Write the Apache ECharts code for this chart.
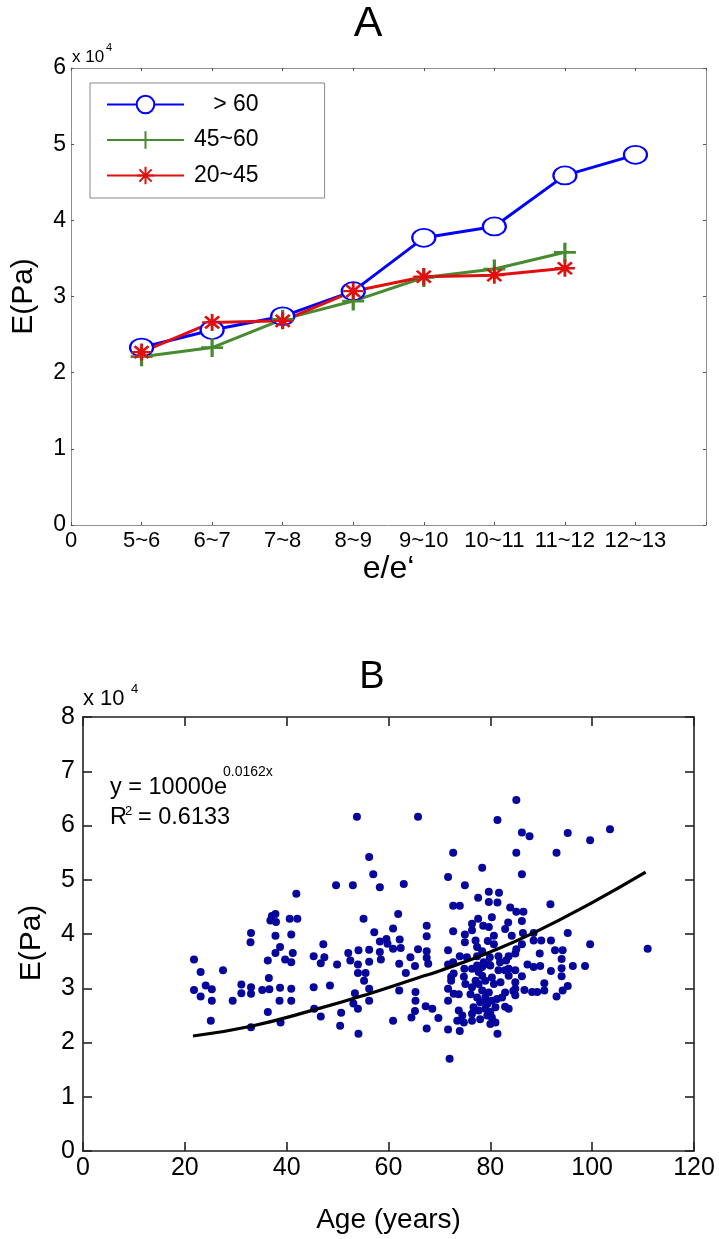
<!DOCTYPE html>
<html><head><meta charset="utf-8">
<script src="https://cdn.jsdelivr.net/npm/echarts@6/dist/echarts.min.js"></script>
<style>html,body{margin:0;padding:0;background:#fff}#c{width:719px;height:1239px}</style>
</head><body><div id="c"></div>
<script>
// ---------- Panel A data (E in units of 1e4 Pa) ----------
const groupsA = ['5~6','6~7','7~8','8~9','9~10','10~11','11~12','12~13'];
const xTickLabelsA = ['0','5~6','6~7','7~8','8~9','9~10','10~11','11~12','12~13',''];
const seriesNamesA = ['>60','45~60','20~45'];
const legendLabelsA = ['   > 60','45~60','20~45'];
const over60   = [2.33, 2.56, 2.74, 3.07, 3.77, 3.92, 4.59, 4.86];
const age45to60 = [2.21, 2.33, 2.70, 2.94, 3.25, 3.36, 3.58];
const age20to45 = [2.27, 2.66, 2.68, 3.07, 3.26, 3.28, 3.37];

// ---------- Panel B data: [age (years), E (1e4 Pa)] ----------
const scatterB = [
[53.8,6.16],[65.8,6.16],[56.2,5.42],[57.0,5.10],[58.3,4.86],[49.7,4.90],[53.0,4.90],[63.0,4.92],[41.9,4.74],[37.8,4.37],
[36.8,4.25],[37.9,4.22],[37.1,4.33],[40.6,4.28],[42.1,4.28],[33.0,4.02],[32.9,3.85],[37.8,3.97],[40.9,3.99],[38.7,3.76],
[37.8,3.65],[36.3,3.51],[39.7,3.53],[40.9,3.48],[41.2,3.65],[47.2,3.81],[45.3,3.59],[47.4,3.57],[46.7,3.46],[49.9,3.44],
[52.1,3.65],[52.5,3.51],[54.1,3.70],[54.0,3.44],[55.1,4.28],[57.2,4.03],[58.3,3.86],[59.6,3.91],[59.8,3.82],[60.9,4.10],
[61.9,4.37],[62.2,3.90],[60.9,3.73],[62.4,3.74],[56.2,3.71],[58.3,3.67],[58.5,3.53],[56.2,3.49],[54.0,3.28],[55.5,3.28],
[55.2,3.14],[56.2,2.99],[53.4,2.91],[56.2,2.77],[53.1,2.72],[54.0,2.62],[50.7,2.55],[50.5,2.31],[54.1,2.16],[45.3,3.02],
[48.5,3.05],[45.4,2.62],[46.7,2.48],[62.1,3.45],[63.4,3.28],[62.1,2.96],[64.3,3.57],[65.2,3.41],[65.8,3.72],[65.3,2.93],
[65.3,2.77],[65.2,2.58],[64.5,2.46],[60.9,2.40],[67.3,2.67],[68.6,2.62],[69.8,2.45],[67.5,2.26],[67.5,4.15],[67.5,3.96],
[67.5,3.68],[67.5,3.56],[67.8,3.45],
[21.8,3.53],[23.1,3.30],[21.8,2.97],[23.1,2.85],[24.1,3.05],[25.3,2.98],[25.3,2.77],[25.1,2.40],[27.5,3.33],[29.4,2.77],
[31.1,3.07],[31.1,2.91],[33.0,3.02],[33.0,2.90],[33.0,2.28],[35.2,2.97],[36.6,2.98],[36.5,3.19],[38.7,3.01],[38.6,2.77],
[36.3,2.56],[38.8,2.37],[40.9,2.99],[40.9,2.77],[72.0,1.70],
[85.1,6.47],[81.4,6.10],[86.2,5.87],[87.7,5.80],[95.2,5.86],[99.6,5.73],[103.5,5.93],[72.7,5.50],[85.1,5.50],[93.0,5.50],
[78.4,5.22],[86.2,5.10],[71.7,5.05],[75.0,4.90],[77.6,4.67],[79.7,4.78],[81.7,4.76],[79.7,4.59],[81.4,4.58],[72.7,4.52],
[74.0,4.52],[91.8,4.55],[83.9,4.49],[85.1,4.41],[86.5,4.41],[80.3,4.31],[77.6,4.28],[76.4,4.19],[78.6,4.15],[79.7,4.13],
[83.5,4.21],[86.2,4.24],[82.9,4.09],[76.4,4.07],[72.7,4.05],[75.0,3.99],[80.7,3.97],[84.2,3.97],[86.4,4.02],[88.5,4.02],
[95.2,4.02],[75.0,3.85],[77.1,3.88],[79.5,3.87],[80.7,3.81],[86.2,3.81],[88.5,3.88],[90.0,3.88],[91.9,3.88],[99.6,3.81],
[110.9,3.73],[71.7,3.70],[77.4,3.76],[78.4,3.68],[81.6,3.59],[83.6,3.59],[84.9,3.64],[85.1,3.72],[92.7,3.70],[94.2,3.70],
[89.7,3.64],[74.0,3.59],[75.4,3.57],[77.4,3.59],[79.9,3.57],[94.0,3.54],[71.7,3.44],[72.7,3.48],[79.7,3.44],[81.9,3.48],
[83.1,3.51],[87.3,3.44],[88.5,3.39],[89.8,3.41],[96.2,3.41],[98.6,3.41],[94.0,3.37],[72.3,3.21],[74.9,3.36],[72.8,3.27],
[91.9,3.32],[94.0,3.22],[83.6,3.36],[84.9,3.33],[86.2,3.22],[71.7,2.99],[71.7,2.77],[72.3,3.14],[72.8,2.90],[90.6,3.09],
[86.7,2.97],[88.2,2.93],[89.2,2.93],[90.6,2.96],[95.2,3.04],[94.2,2.96],[93.0,2.85],[84.9,2.99],[84.9,2.87],[71.7,2.24],
[74.0,2.21],[81.4,2.16],[82.9,2.66],[83.6,2.62],
[80.0,3.42],[81.6,3.33],[82.9,3.33],[74.8,3.21],[77.7,3.30],[78.4,3.23],[77.1,3.14],[79.0,3.14],[80.3,3.20],[80.7,3.08],
[82.0,3.11],[83.6,3.23],[84.9,3.11],[84.5,2.95],[73.8,2.89],[75.1,3.08],[76.4,3.02],[76.1,2.89],[77.7,3.08],[78.4,2.96],
[77.4,2.83],[79.0,2.83],[79.7,2.92],[78.0,2.74],[79.4,2.71],[80.3,2.77],[81.3,2.80],[82.3,2.83],[82.9,2.92],[76.7,2.65],
[77.7,2.59],[79.0,2.62],[80.0,2.56],[81.0,2.65],[73.8,2.59],[74.5,2.50],[73.5,2.40],[74.8,2.37],[76.4,2.40],[76.4,2.53],
[78.0,2.43],[79.4,2.50],[80.3,2.46],[81.0,2.37],[80.0,2.34],[78.4,3.39],[77.4,3.42],[76.4,3.36],[78.7,3.48]
];
// fitted trend curve
const fitAges   = [21.6, 33.0, 45.7, 56.2, 66.0, 70.0, 80.0, 88.5, 100.0, 110.5];
const fitValues = [2.12, 2.30, 2.61, 2.90, 3.20, 3.32, 3.67, 4.02, 4.58, 5.14];
const yTicksB = [0,1,2,3,4,5,6,7,8];

const FA = 'Liberation Sans';
const FB = 'Liberation Sans';

const chart = echarts.init(document.getElementById('c'), null, {renderer:'canvas'});

const grayAxis = {onZero:false, lineStyle:{color:'#8f8f8f', width:1}};
const blackAxis = {onZero:false, lineStyle:{color:'#222', width:1.6}};
const grayTick = {inside:true, length:3, lineStyle:{color:'#555'}};
const blackTick = {inside:true, length:9, lineStyle:{color:'#222', width:1.6}};
const plusPath = 'path://M10,0L10,20M0,10L20,10';
const starPath = 'path://M10,0L10,20M0,10L20,10M3,3L17,17M17,3L3,17';

function txt(t, x, y, size, align, extra){
  return Object.assign({type:'text', x:x, y:y,
    style:{text:t, font:size+'px "'+FB+'"', fill:'#000', textAlign:align||'left', textVerticalAlign:'middle'}}, extra||{});
}

const option = {
  animation:false,
  backgroundColor:'#fff',
  grid:[
    {left:71, top:68, right:13, bottom:714, show:false},
    {left:83, top:717, right:25, bottom:88, show:false}
  ],
  legend:{
    data:seriesNamesA, left:90, top:83, orient:'vertical',
    itemWidth:77, itemHeight:22, itemGap:12.5,
    padding:[10,66,11,16], borderColor:'#888', borderWidth:1, backgroundColor:'#fff',
    formatter:(n)=>legendLabelsA[seriesNamesA.indexOf(n)],
    textStyle:{fontFamily:FA, fontSize:23, color:'#000', padding:[0,0,0,5]}
  },
  xAxis:[
    {gridIndex:0, type:'value', min:0, max:9, interval:1, position:'bottom',
     axisLine:grayAxis, splitLine:{show:false}, axisTick:grayTick,
     axisLabel:{formatter:(v)=>xTickLabelsA[Math.round(v)], fontFamily:FA, fontSize:22, color:'#000', margin:5},
     name:'e/e\u2018', nameLocation:'middle', nameGap:12,
     nameTextStyle:{fontFamily:FA, fontSize:32, color:'#000', verticalAlign:'top'}},
    {gridIndex:0, type:'value', min:0, max:9, interval:1, position:'top',
     axisLine:grayAxis, splitLine:{show:false}, axisTick:grayTick, axisLabel:{show:false}},
    {gridIndex:1, type:'value', min:0, max:120, interval:20, position:'bottom',
     axisLine:blackAxis, splitLine:{show:false}, axisTick:blackTick,
     axisLabel:{fontFamily:FB, fontSize:25, color:'#000', margin:5},
     name:'Age (years)', nameLocation:'middle', nameGap:55,
     nameTextStyle:{fontFamily:FB, fontSize:28, color:'#000'}},
    {gridIndex:1, type:'value', min:0, max:120, interval:20, position:'top',
     axisLine:blackAxis, splitLine:{show:false}, axisTick:blackTick, axisLabel:{show:false}}
  ],
  yAxis:[
    {gridIndex:0, type:'value', min:0, max:6, interval:1, position:'left',
     axisLine:grayAxis, splitLine:{show:false}, axisTick:grayTick,
     axisLabel:{fontFamily:FA, fontSize:23, color:'#000', margin:5},
     name:'E(Pa)', nameLocation:'middle', nameGap:32,
     nameTextStyle:{fontFamily:FA, fontSize:30, color:'#000'}},
    {gridIndex:0, type:'value', min:0, max:6, interval:1, position:'right',
     axisLine:grayAxis, splitLine:{show:false}, axisTick:grayTick, axisLabel:{show:false}},
    {gridIndex:1, type:'value', min:0, max:8, interval:1, position:'left',
     axisLine:blackAxis, splitLine:{show:false}, axisTick:blackTick,
     axisLabel:{fontFamily:FB, fontSize:25, color:'#000', margin:8,
       formatter:(v)=>String(yTicksB[v])},
     name:'E(Pa)', nameLocation:'middle', nameGap:36,
     nameTextStyle:{fontFamily:FB, fontSize:30, color:'#000', padding:[0,18,0,0]}},
    {gridIndex:1, type:'value', min:0, max:8, interval:1, position:'right',
     axisLine:blackAxis, splitLine:{show:false}, axisTick:blackTick, axisLabel:{show:false}}
  ],
  series:[
    {name:seriesNamesA[0], type:'line', xAxisIndex:0, yAxisIndex:0,
     data:over60.map((v,i)=>[i+1, v]),
     symbol:'emptyCircle', symbolSize:[23,18],
     lineStyle:{color:'#0000ff', width:3},
     itemStyle:{color:'#0000ff', borderColor:'#0000ff', borderWidth:3}},
    {name:seriesNamesA[1], type:'line', xAxisIndex:0, yAxisIndex:0,
     data:age45to60.map((v,i)=>[i+1, v]),
     symbol:plusPath, symbolSize:[22,19],
     lineStyle:{color:'#478a2f', width:3},
     itemStyle:{color:'#478a2f', borderColor:'#478a2f', borderWidth:3}},
    {name:seriesNamesA[2], type:'line', xAxisIndex:0, yAxisIndex:0,
     data:age20to45.map((v,i)=>[i+1, v]),
     symbol:starPath, symbolSize:[20,17],
     lineStyle:{color:'#e01010', width:3},
     itemStyle:{color:'#e01010', borderColor:'#e01010', borderWidth:2.6}},
    {name:'data', type:'scatter', xAxisIndex:2, yAxisIndex:2,
     data:scatterB, symbol:'circle', symbolSize:8,
     itemStyle:{color:'#06069c', opacity:1}},
    {name:'fit', type:'line', xAxisIndex:2, yAxisIndex:2,
     data:fitAges.map((a,i)=>[a, fitValues[i]]), smooth:true, symbol:'none',
     lineStyle:{color:'#000', width:3.2}, z:5}
  ],
  graphic:[
    txt('A', 368, 24, 43, 'center'),
    txt('x 10', 72, 57, 17),
    txt('4', 106, 48, 11),
    txt('B', 372, 678, 38, 'center'),
    txt('x 10', 83, 699, 22),
    txt('4', 131, 689, 13),
    txt('y = 10000e', 110, 788, 23.5),
    txt('0.0162x', 223, 772, 14),
    txt('R', 110, 818, 23.5),
    txt('2', 125, 811, 13),
    txt('= 0.6133', 138, 818, 23.5)
  ]
};
chart.setOption(option);
</script>
</body></html>
